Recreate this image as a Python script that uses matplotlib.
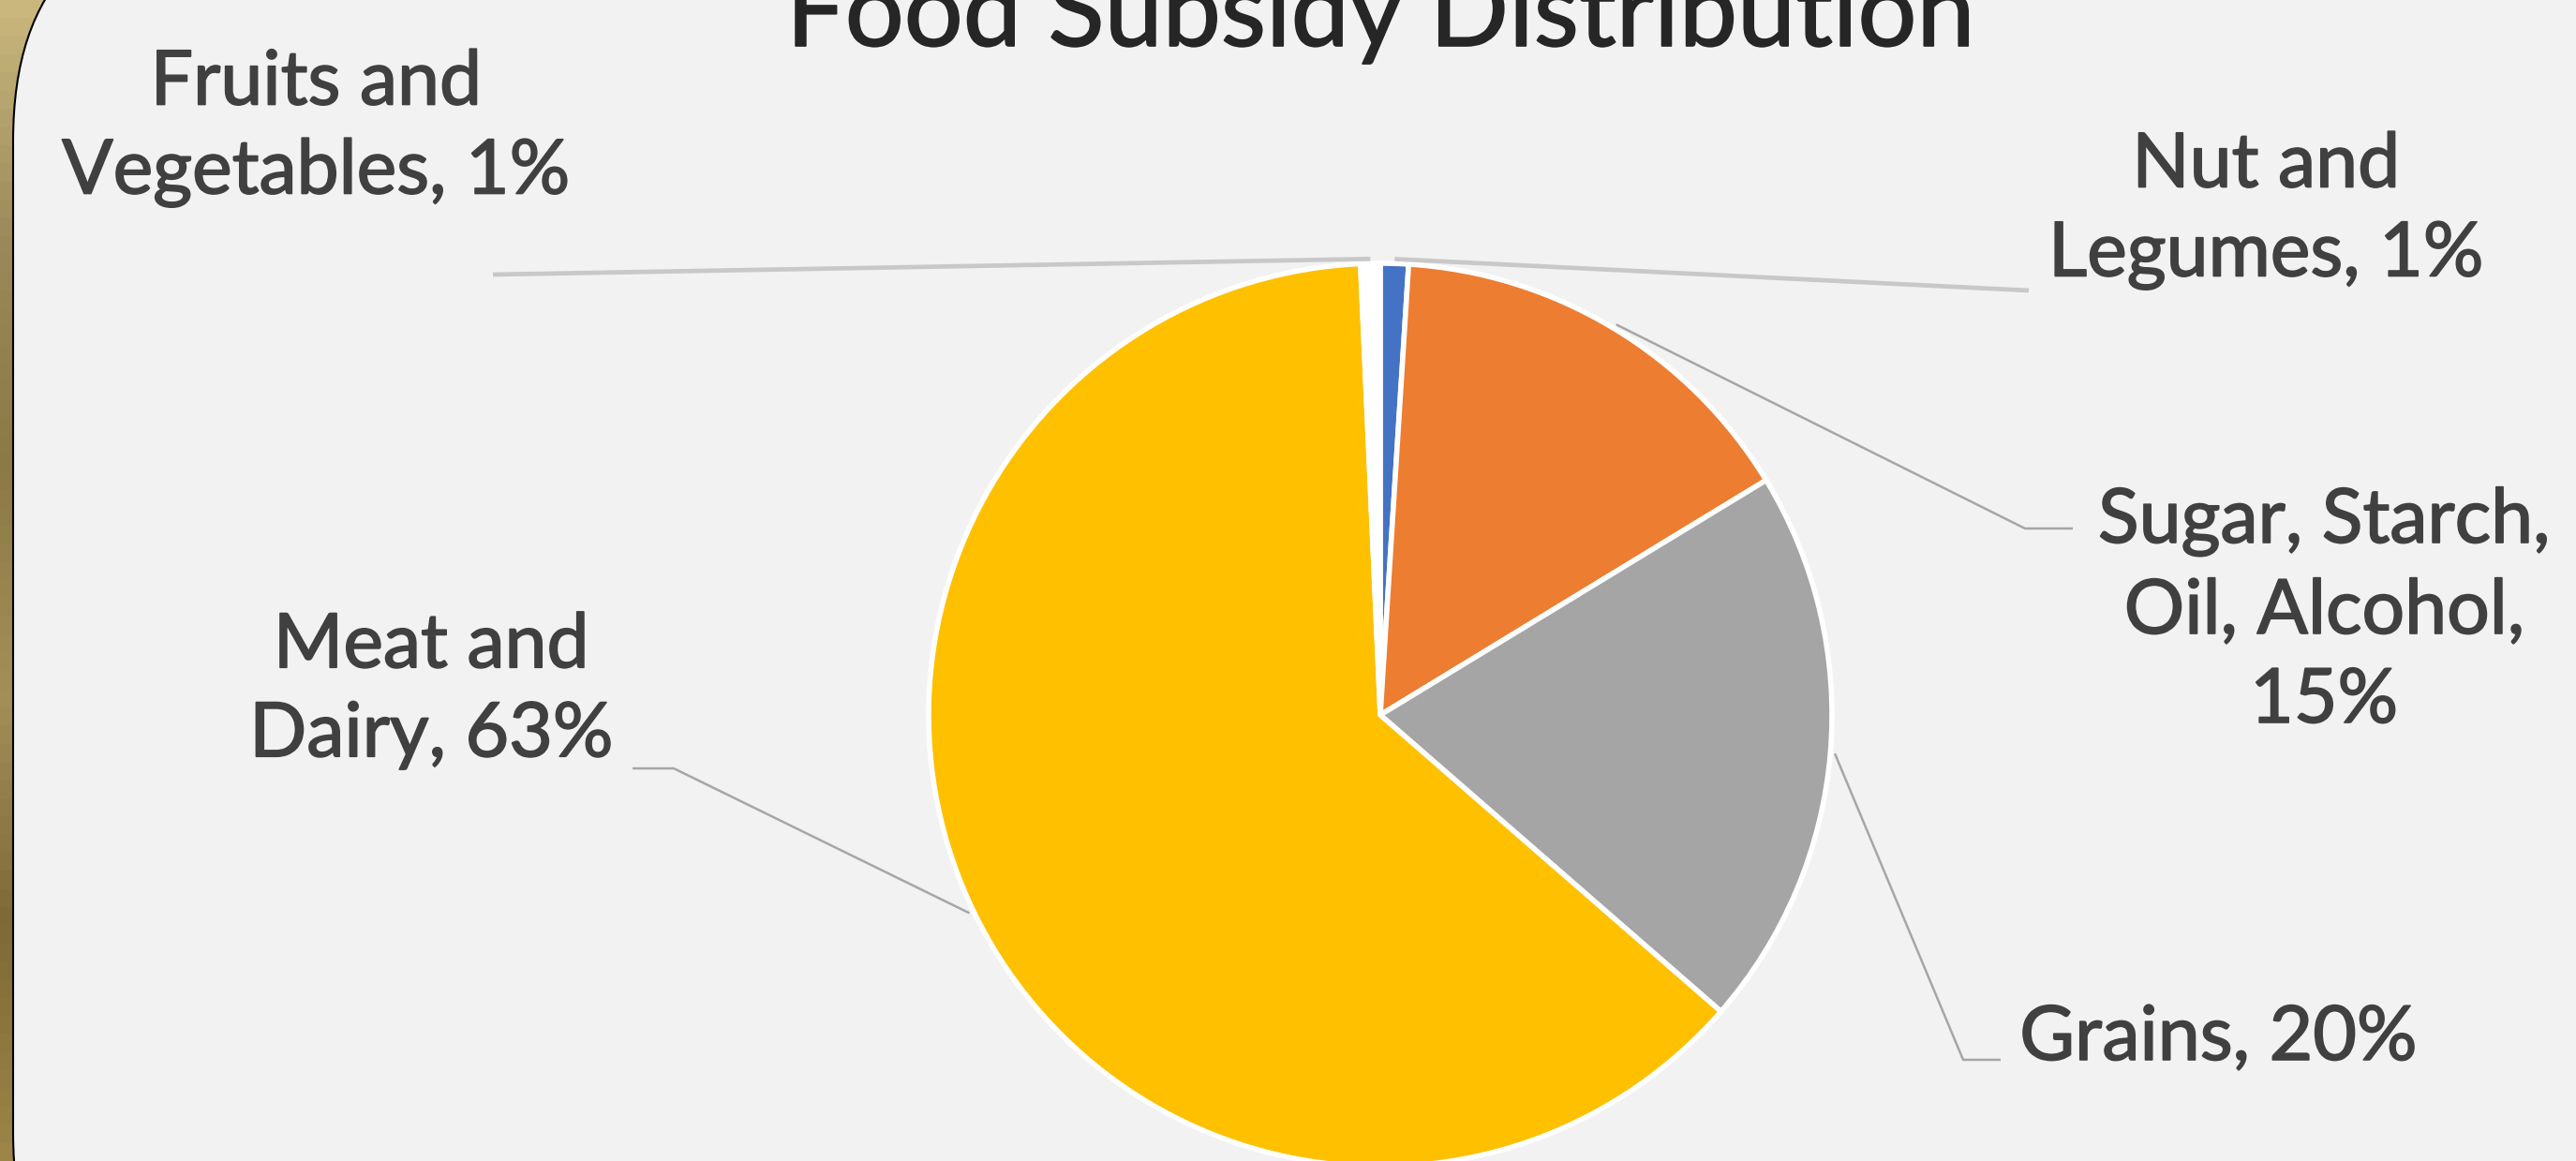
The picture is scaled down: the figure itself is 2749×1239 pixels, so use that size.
import numpy as np
import matplotlib.pyplot as plt
import matplotlib.patheffects as pe
from matplotlib.colors import LinearSegmentedColormap
from matplotlib.patches import FancyBboxPatch

plt.rcParams['font.family'] = ['Lato', 'DejaVu Sans']

# slices, clockwise from 12 o'clock (Excel order)
categories = ["Nut and Legumes", "Sugar, Starch, Oil, Alcohol", "Grains",
              "Meat and Dairy", "Fruits and Vegetables"]
shares = [1.0, 15.3, 20.1, 62.9, 0.7]
label_texts = ["Nut and\nLegumes, 1%", "Sugar, Starch,\nOil, Alcohol,\n15%",
               "Grains, 20%", "Meat and\nDairy, 63%", "Fruits and\nVegetables, 1%"]
colors = ["#4472C4", "#ED7D31", "#A5A5A5", "#FFC000", "#FFFFFF"]
title = "Food Subsidy Distribution"

W, H = 2749, 1239
CX, CY, R = 1473, 763, 482   # pie centre / radius in pixels


def px(x, y):
    # pixel position (top-left origin) -> data coords of the pie axes
    return (x - CX) / R, (CY - y) / R


fig = plt.figure(figsize=(W / 100, H / 100), dpi=100)
fig.patch.set_facecolor("#a38d52")

# background axes in pixel units: gold frame + light slide panel
bg = fig.add_axes([0, 0, 1, 1])
bg.set_xlim(0, W)
bg.set_ylim(H, 0)
bg.axis("off")
frame_cmap = LinearSegmentedColormap.from_list(
    "frame", ["#c9b77d", "#9a8a5a", "#8c7a44", "#a38f58", "#7d6a35", "#9c8547"])
bg.imshow(np.linspace(0, 1, 64).reshape(-1, 1), cmap=frame_cmap, aspect="auto",
          extent=[0, 160, H, 0], zorder=0)
panel = FancyBboxPatch((14, -100), W + 400, H + 320,
                       boxstyle="round,pad=0,rounding_size=250",
                       facecolor="#f2f2f2", edgecolor="black", linewidth=1.5,
                       zorder=1)
bg.add_patch(panel)
bg.set_xlim(0, W)
bg.set_ylim(H, 0)

ax = fig.add_axes([0, 0, 1, 1])
ax.patch.set_alpha(0)
wedges, _ = ax.pie(shares, colors=colors, startangle=90, counterclock=False,
                   radius=1.0, center=(0, 0), frame=True,
                   wedgeprops=dict(edgecolor="white", linewidth=4))
ax.set_xlim(-CX / R, (W - CX) / R)
ax.set_ylim(-(H - CY) / R, CY / R)
ax.set_aspect("auto")
ax.axis("off")

# label layout (pixel positions) and leader elbows
label_pos = [(2418, 225), (2480, 652), (2367, 1108), (460, 737), (337, 137)]
leader_pts = [
    [(2165, 310)],
    [(2161, 564), (2212, 564)],
    [(2095, 1131), (2135, 1131)],
    [(719, 820), (675, 820)],
    [(526, 293)],
]
leader_style = [("#c8c8c8", 3.4), ("#a6a6a6", 1.8), ("#a6a6a6", 1.8),
                ("#a6a6a6", 1.8), ("#c8c8c8", 3.4)]
thick = [pe.withStroke(linewidth=1.2, foreground="#404040")]

for w, txt, pos, pts, (lc, lw) in zip(wedges, label_texts, label_pos,
                                      leader_pts, leader_style):
    mid = np.deg2rad((w.theta1 + w.theta2) / 2)
    xs = [1.01 * np.cos(mid)] + [px(*p)[0] for p in pts]
    ys = [1.01 * np.sin(mid)] + [px(*p)[1] for p in pts]
    ax.plot(xs, ys, color=lc, lw=lw, solid_capstyle="butt", zorder=1)
    tx, ty = px(*pos)
    ax.text(tx, ty, txt, ha="center", va="center", multialignment="center",
            fontsize=58, color="#404040", linespacing=1.35, path_effects=thick)

tx, ty = px(1473, 49)
ax.text(tx, ty, title, ha="center", va="baseline", fontsize=80,
        color="#262626",
        path_effects=[pe.withStroke(linewidth=1.2, foreground="#262626")])

fig.savefig("out.png", dpi=100, facecolor=fig.get_facecolor())
